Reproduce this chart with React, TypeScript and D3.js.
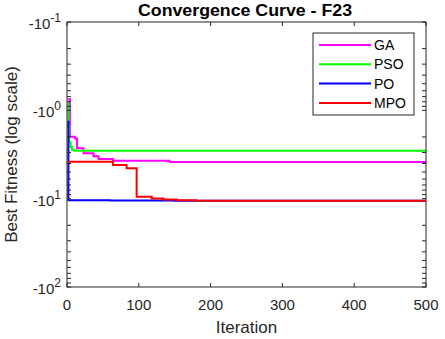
import React, { useEffect, useRef } from 'react';
import * as d3 from 'd3';

// step points [iteration, best fitness]
const gaCurve: [number, number][] = [
  [1, -0.75], [4, -1.99], [11, -2.08], [14, -2.69], [23, -3.07],
  [37, -3.3], [44, -3.56], [64, -3.72], [143, -3.84], [500, -3.84],
];
const psoCurve: [number, number][] = [
  [1, -0.83], [2, -1.5], [3, -2.3], [5, -2.6], [7, -2.8], [10, -2.86], [500, -2.86],
];
const poCurve: [number, number][] = [
  [1, -1.35], [2, -10.4], [60, -10.5], [150, -10.5364], [500, -10.5364],
];
const mpoCurve: [number, number][] = [
  [1, -3.82], [64, -4.16], [83, -4.54], [97, -9.5], [118, -9.93],
  [134, -10.2], [153, -10.45], [180, -10.5364], [500, -10.5364],
];

const seriesNames = ['GA', 'PSO', 'PO', 'MPO'];
const seriesColors = ['#ff00ff', '#00ff00', '#0000ff', '#ff0000'];
const seriesData = [gaCurve, psoCurve, poCurve, mpoCurve];

const xTicks = [0, 100, 200, 300, 400, 500];
const yExponents = [-1, 0, 1, 2];

const App = () => {
  const svgRef = useRef<SVGSVGElement>(null);

  useEffect(() => {
    const width = 445;
    const height = 339;
    const margin = { top: 22, right: 19, bottom: 52, left: 67 };
    const font = 'Arial, "Liberation Sans", sans-serif';
    const axisColor = '#262626';

    const svg = d3.select(svgRef.current)
      .attr('width', width)
      .attr('height', height);
    svg.selectAll('*').remove();

    const x = d3.scaleLinear()
      .domain([0, 500])
      .range([margin.left, width - margin.right]);

    // magnitude of the (negative) fitness on a log scale, growing downward
    const y = d3.scaleLog()
      .domain([0.1, 100])
      .range([margin.top, height - margin.bottom]);

    const [x0, x1] = x.range();
    const [y0, y1] = y.range();

    svg.append('rect')
      .attr('x', x0).attr('y', y0)
      .attr('width', x1 - x0).attr('height', y1 - y0)
      .attr('fill', '#fff');

    const line = d3.line<[number, number]>()
      .x(d => x(d[0]))
      .y(d => y(-d[1]))
      .curve(d3.curveStepAfter);

    svg.append('g')
      .selectAll('path')
      .data(seriesData)
      .join('path')
      .attr('d', d => line(d))
      .attr('fill', 'none')
      .attr('stroke', (d, i) => seriesColors[i])
      .attr('stroke-width', 2);

    // box
    svg.append('rect')
      .attr('x', x0).attr('y', y0)
      .attr('width', x1 - x0).attr('height', y1 - y0)
      .attr('fill', 'none')
      .attr('stroke', axisColor)
      .attr('stroke-width', 1);

    const ticks = svg.append('g').attr('stroke', axisColor).attr('stroke-width', 1);
    const tl = 4;

    xTicks.forEach(t => {
      ticks.append('line').attr('x1', x(t)).attr('x2', x(t)).attr('y1', y1).attr('y2', y1 - tl);
      ticks.append('line').attr('x1', x(t)).attr('x2', x(t)).attr('y1', y0).attr('y2', y0 + tl);
    });

    y.ticks().forEach(t => {
      ticks.append('line').attr('y1', y(t)).attr('y2', y(t)).attr('x1', x0).attr('x2', x0 + tl);
      ticks.append('line').attr('y1', y(t)).attr('y2', y(t)).attr('x1', x1).attr('x2', x1 - tl);
    });

    svg.append('g')
      .selectAll('text')
      .data(xTicks)
      .join('text')
      .attr('x', d => x(d))
      .attr('y', y1 + 23)
      .attr('text-anchor', 'middle')
      .attr('font-family', font)
      .attr('font-size', 15)
      .attr('fill', axisColor)
      .text(d => d);

    const yl = svg.append('g')
      .selectAll('text')
      .data(yExponents)
      .join('text')
      .attr('x', 61)
      .attr('y', d => y(Math.pow(10, d)) + 7)
      .attr('text-anchor', 'end')
      .attr('font-family', font)
      .attr('font-size', 15)
      .attr('fill', axisColor);
    yl.append('tspan').text('-10');
    yl.append('tspan')
      .attr('font-size', 12)
      .attr('dy', -7)
      .text(d => d);

    svg.append('text')
      .attr('x', (x0 + x1) / 2)
      .attr('y', 333)
      .attr('text-anchor', 'middle')
      .attr('font-family', font)
      .attr('font-size', 17)
      .attr('fill', axisColor)
      .text('Iteration');

    svg.append('text')
      .attr('transform', `translate(17,${(y0 + y1) / 2}) rotate(-90)`)
      .attr('text-anchor', 'middle')
      .attr('font-family', font)
      .attr('font-size', 17)
      .attr('fill', axisColor)
      .text('Best Fitness (log scale)');

    svg.append('text')
      .attr('x', 245)
      .attr('y', 16)
      .attr('text-anchor', 'middle')
      .attr('font-family', font)
      .attr('font-size', 16)
      .attr('font-weight', 'bold')
      .attr('textLength', 214)
      .attr('lengthAdjust', 'spacingAndGlyphs')
      .attr('fill', '#000')
      .text('Convergence Curve - F23');

    // legend
    const lg = svg.append('g');
    lg.append('rect')
      .attr('x', 313).attr('y', 33)
      .attr('width', 101).attr('height', 82)
      .attr('fill', '#fff')
      .attr('stroke', axisColor)
      .attr('stroke-width', 1);

    const items = lg.selectAll('g.item')
      .data(seriesNames)
      .join('g')
      .attr('class', 'item')
      .attr('transform', (d, i) => `translate(0,${45 + i * 19.3})`);
    items.append('line')
      .attr('x1', 319).attr('x2', 371)
      .attr('stroke', (d, i) => seriesColors[i])
      .attr('stroke-width', 2);
    items.append('text')
      .attr('x', 374)
      .attr('y', 5)
      .attr('font-family', font)
      .attr('font-size', 14)
      .attr('fill', '#000')
      .text(d => d);
  }, []);

  return <svg ref={svgRef} style={{ position: 'absolute', left: 0, top: 0 }}></svg>;
};

export default App;
